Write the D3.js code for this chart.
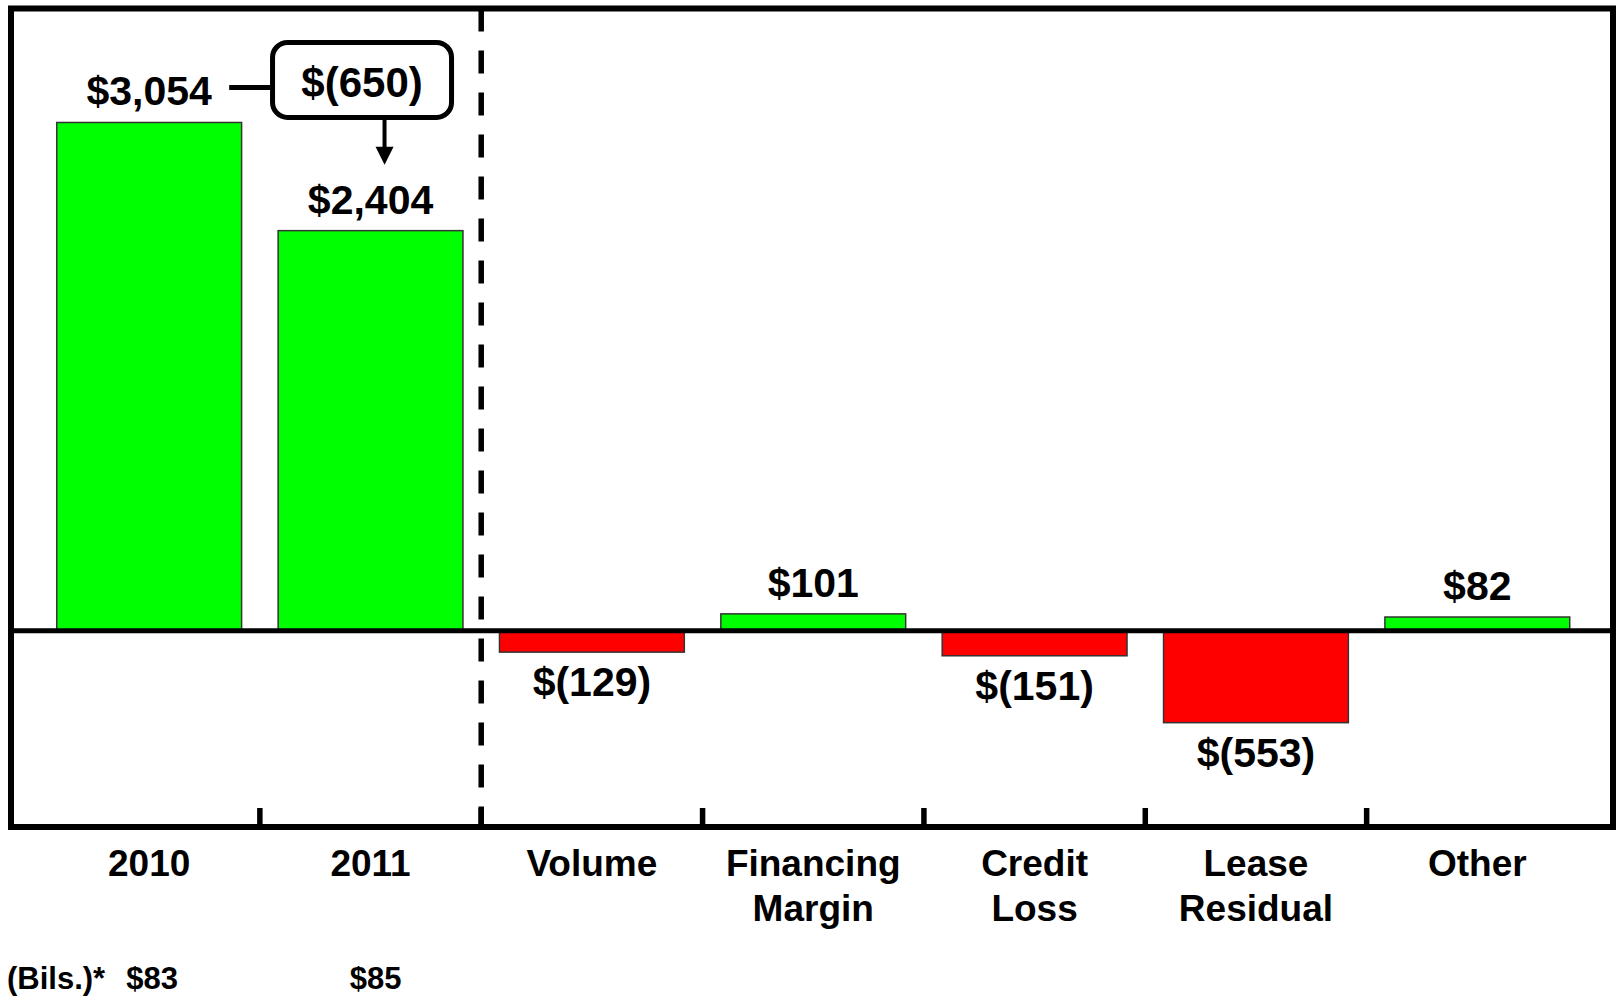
<!DOCTYPE html>
<html>
<head>
<meta charset="utf-8">
<script src="https://cdn.jsdelivr.net/npm/d3@7"></script>
<style>
  body { margin: 0; background: #fff; }
  text { font-family: "Liberation Sans", Arial, sans-serif; font-weight: bold; fill: #000; }
</style>
</head>
<body>
<script>
// data
var categories = ["2010", "2011", "Volume", "Financing Margin", "Credit Loss", "Lease Residual", "Other"];
var values = [3054, 2404, -129, 101, -151, -553, 82];
var bilsLabel = "(Bils.)*";
var bilsValues = [83, 85];

var svgWidth = 1618;
var svgHeight = 997;

var frame = { left: 11, right: 1613, top: 8.5, bottom: 827 };

var svg = d3.select("body")
  .append("svg")
  .attr("width", svgWidth)
  .attr("height", svgHeight);

svg.append("rect")
  .attr("width", svgWidth)
  .attr("height", svgHeight)
  .attr("fill", "#fff");

// scales
var x = d3.scaleBand()
  .domain(categories)
  .range([frame.left + 1.5, frame.right + 1])
  .paddingInner(0.165)
  .paddingOuter(0.2);

var y = d3.scaleLinear()
  .domain([-1180, 3739])
  .range([frame.bottom, frame.top]);

var bw = x.bandwidth();
var step = x.step();
var cx = d => x(d) + bw / 2;

var fmt = d3.format(",");
function money(v) {
  return v < 0 ? "$(" + fmt(-v) + ")" : "$" + fmt(v);
}

var rows = categories.map((c, i) => ({ cat: c, value: values[i] }));

// bars
svg.selectAll(".bar")
  .data(rows)
  .enter()
  .append("rect")
  .attr("class", "bar")
  .attr("x", d => x(d.cat))
  .attr("width", bw)
  .attr("y", d => Math.min(y(d.value), y(0)))
  .attr("height", d => Math.abs(y(d.value) - y(0)))
  .attr("fill", d => d.value >= 0 ? "#00ff00" : "#ff0000")
  .attr("stroke", "#333")
  .attr("stroke-width", 1.5);

// zero line
svg.append("line")
  .attr("x1", frame.left)
  .attr("x2", frame.right)
  .attr("y1", y(0))
  .attr("y2", y(0))
  .attr("stroke", "#000")
  .attr("stroke-width", 5);

// separator between totals and drivers
var sepX = x(categories[1]) + bw + step * x.paddingInner() / 2;
svg.append("line")
  .attr("x1", sepX)
  .attr("x2", sepX)
  .attr("y1", frame.top)
  .attr("y2", frame.bottom)
  .attr("stroke", "#000")
  .attr("stroke-width", 5.5)
  .attr("stroke-dasharray", "23,19");

// category ticks
svg.selectAll(".tick")
  .data(categories.slice(0, -1))
  .enter()
  .append("line")
  .attr("class", "tick")
  .attr("x1", d => x(d) + bw + step * x.paddingInner() / 2)
  .attr("x2", d => x(d) + bw + step * x.paddingInner() / 2)
  .attr("y1", frame.bottom - 19)
  .attr("y2", frame.bottom)
  .attr("stroke", "#000")
  .attr("stroke-width", 5.5);

// frame
svg.append("rect")
  .attr("x", frame.left)
  .attr("y", frame.top)
  .attr("width", frame.right - frame.left)
  .attr("height", frame.bottom - frame.top)
  .attr("fill", "none")
  .attr("stroke", "#000")
  .attr("stroke-width", 6);

// value labels
svg.selectAll(".val")
  .data(rows)
  .enter()
  .append("text")
  .attr("class", "val")
  .attr("x", d => cx(d.cat))
  .attr("y", d => d.value >= 0 ? y(d.value) - 17 : y(d.value) + 44)
  .attr("text-anchor", "middle")
  .attr("font-size", 41)
  .text(d => money(d.value));

// category labels
var catText = svg.selectAll(".cat")
  .data(categories)
  .enter()
  .append("text")
  .attr("class", "cat")
  .attr("text-anchor", "middle")
  .attr("font-size", 37);

catText.selectAll("tspan")
  .data(d => d.split(" ").map(w => ({ cat: d, word: w })))
  .enter()
  .append("tspan")
  .attr("x", d => cx(d.cat))
  .attr("y", (d, i) => 876 + i * 45)
  .text(d => d.word);

// footnote row
svg.append("text")
  .attr("x", 7)
  .attr("y", 989)
  .attr("font-size", 31)
  .text(bilsLabel);

svg.selectAll(".bils")
  .data(bilsValues)
  .enter()
  .append("text")
  .attr("class", "bils")
  .attr("x", (d, i) => cx(categories[i]) + 3 + i * 2)
  .attr("y", 989)
  .attr("text-anchor", "middle")
  .attr("font-size", 31)
  .text(d => "$" + d);

// change annotation
var change = values[1] - values[0];
var boxCx = cx(categories[1]) - 8.5;
var boxW = 179, boxH = 75;
var linkY = y(values[0]) - 35;
var boxTop = linkY - 45;

svg.append("line")
  .attr("x1", cx(categories[0]) + 80)
  .attr("x2", boxCx - boxW / 2)
  .attr("y1", linkY)
  .attr("y2", linkY)
  .attr("stroke", "#000")
  .attr("stroke-width", 5);

svg.append("rect")
  .attr("x", boxCx - boxW / 2)
  .attr("y", boxTop)
  .attr("width", boxW)
  .attr("height", boxH)
  .attr("rx", 15)
  .attr("fill", "#fff")
  .attr("stroke", "#000")
  .attr("stroke-width", 5);

svg.append("text")
  .attr("x", boxCx)
  .attr("y", boxTop + 55)
  .attr("text-anchor", "middle")
  .attr("font-size", 42)
  .text(money(change));

var arrowX = cx(categories[1]) + 14;
var arrowTip = y(values[1]) - 66;
svg.append("line")
  .attr("x1", arrowX)
  .attr("x2", arrowX)
  .attr("y1", boxTop + boxH)
  .attr("y2", arrowTip - 16)
  .attr("stroke", "#000")
  .attr("stroke-width", 4);

svg.append("path")
  .attr("d", d3.line()([[arrowX - 9, arrowTip - 18], [arrowX + 9, arrowTip - 18], [arrowX, arrowTip]]) + "Z")
  .attr("fill", "#000");
</script>
</body>
</html>
